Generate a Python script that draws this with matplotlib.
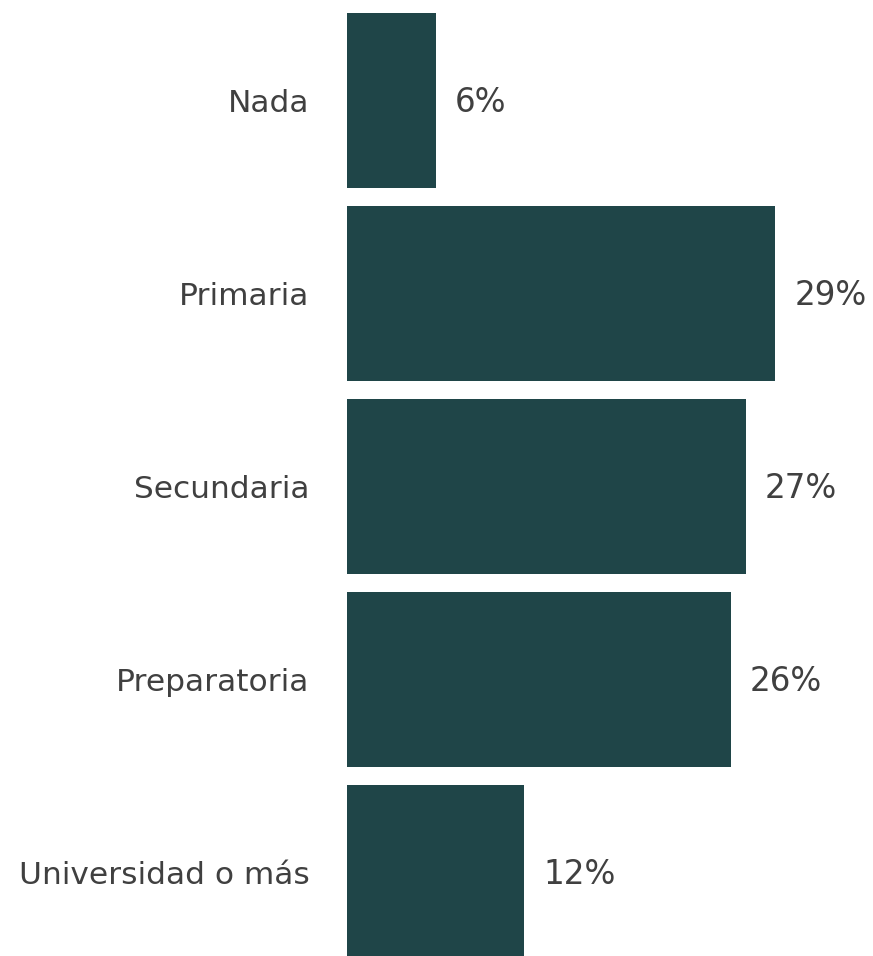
import matplotlib
matplotlib.use("Agg")
import matplotlib.pyplot as plt

categories = ["Nada", "Primaria", "Secundaria", "Preparatoria", "Universidad o más"]
values = [6, 29, 27, 26, 12]

bar_color = "#1f4548"
text_color = "#404040"

fig = plt.figure(figsize=(8.73, 9.56), dpi=100)
ax = fig.add_axes([347 / 873, 0, 1 - 347 / 873, 1])

pos = list(range(len(categories)))
ax.barh(pos, values, height=175 / 193, color=bar_color)
ax.set_xlim(0, 526 / 14.76)
ax.set_ylim(4.433, -0.521)

for y, v in zip(pos, values):
    ax.text(v + 1.3, y + 0.01, "{}%".format(v), va="center", ha="left",
            fontsize=23.5, color=text_color)

ax.set_yticks(pos)
ax.set_yticklabels(categories, fontsize=22.5, color=text_color)
ax.tick_params(axis="y", length=0, pad=27)
ax.set_xticks([])
for s in ax.spines.values():
    s.set_visible(False)

fig.savefig("out.png", dpi=100)
